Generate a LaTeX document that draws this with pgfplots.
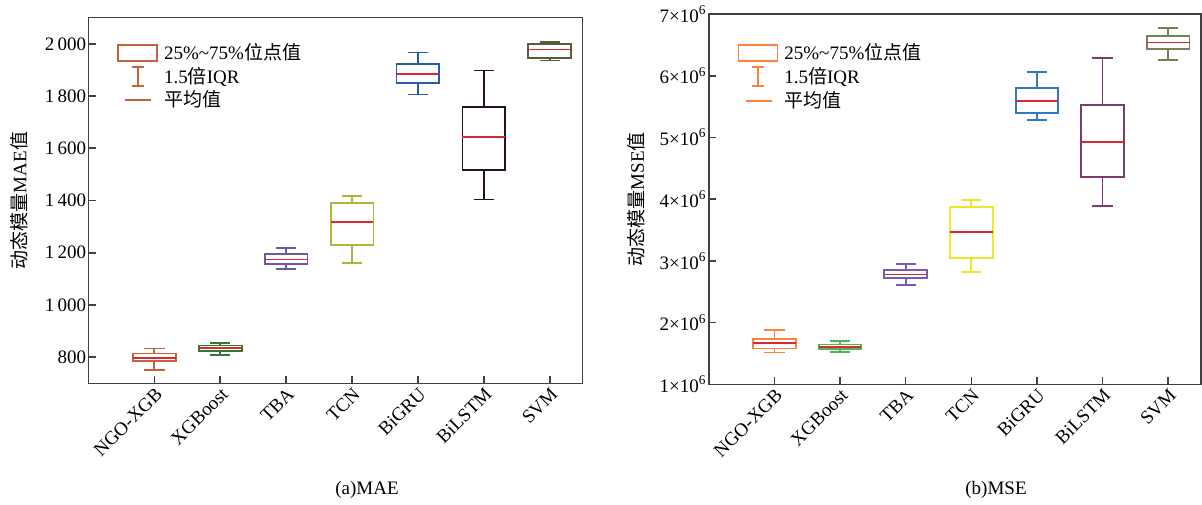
\documentclass[border=0pt]{standalone}
\usepackage{fontspec}
\setmainfont{Liberation Serif}
\newfontfamily\cjk{Noto Sans CJK SC}
\usepackage{pgfplots}
\pgfplotsset{compat=1.18}
\usepgfplotslibrary{statistics}

\definecolor{axgray}{HTML}{404040}
\definecolor{medred}{HTML}{DC2832}
% left plot colours
\definecolor{la}{HTML}{C4623A}
\definecolor{lb}{HTML}{327832}
\definecolor{lc}{HTML}{6E5AA0}
\definecolor{ld}{HTML}{B4B43C}
\definecolor{le}{HTML}{285AAA}
\definecolor{lf}{HTML}{280F28}
\definecolor{lg}{HTML}{555F3C}
% right plot colours
\definecolor{ra}{HTML}{FF823C}
\definecolor{rb}{HTML}{50B450}
\definecolor{rc}{HTML}{785ABE}
\definecolor{rd}{HTML}{F0E628}
\definecolor{re}{HTML}{3278C8}
\definecolor{rf}{HTML}{783C6E}
\definecolor{rg}{HTML}{78825A}

\newcommand{\fs}{\fontsize{9.5}{11}\selectfont}

\pgfplotsset{
  base/.style={
    scale only axis,
    xmin=0, xmax=7.5,
    xtick={1,...,7},
    xticklabels={NGO-XGB,XGBoost,TBA,TCN,BiGRU,BiLSTM,SVM},
    x tick label style={rotate=45, anchor=north east, font=\fs, inner sep=1pt},
    y tick label style={font=\fs, inner sep=1pt},
    tick align=inside,
    xtick pos=bottom, ytick pos=left,
    major tick length=3.5pt,
    axis line style={line width=0.8pt, draw=axgray},
    tick style={line width=0.8pt, draw=axgray},
    label style={font=\fs},
    boxplot/draw direction=y,
    boxplot/every median/.style={draw=medred, line width=0.8pt},
    legend cell align=left,
    legend style={draw=none, fill=none, font=\fs, anchor=north west,
      row sep=-0.6pt, column sep=1.5pt, inner xsep=0pt, inner ysep=0pt,
      nodes={inner sep=1.5pt}},
  },
  bx/.style={line width=0.9pt, solid, mark=none},
}

\newcommand{\legboxes}[1]{%
  \addlegendimage{legend image code/.code={\draw[#1, line width=0.9pt] (0pt,-4pt) rectangle (19.5pt,4pt);}}
  \addlegendentry{25\%\textasciitilde75\%{\cjk 位点值}}
  \addlegendimage{legend image code/.code={\draw[#1, line width=0.9pt] (9.75pt,-4.75pt) -- (9.75pt,4.75pt) (6.75pt,-4.75pt) -- (12.75pt,-4.75pt) (6.75pt,4.75pt) -- (12.75pt,4.75pt);}}
  \addlegendentry{1.5{\cjk 倍}IQR}
  \addlegendimage{legend image code/.code={\draw[#1, line width=0.9pt] (3.5pt,0pt) -- (16.5pt,0pt);}}
  \addlegendentry{{\cjk 平均值}}
}

\begin{document}
\begin{tikzpicture}
\useasboundingbox (0pt,0pt) rectangle (601pt,252pt);

% ---------------- (a) MAE ----------------
\begin{axis}[base,
  at={(44.25pt,60.35pt)}, anchor=south west,
  width=247.1pt, height=182.8pt,
  ymin=700, ymax=2100,
  ytick={800,1000,1200,1400,1600,1800,2000},
  yticklabels={800,1\,000,1\,200,1\,400,1\,600,1\,800,2\,000},
  ylabel={{\cjk 动态模量}MAE{\cjk 值}},
  ylabel style={at={(axis description cs:-0.1406,0.5)}, anchor=center},
  xlabel={(a)MAE},
  xlabel style={at={(axis description cs:0.5635,-0.2918)}, anchor=center},
  legend style={at={(axis description cs:0,1)}, xshift=14.2pt, yshift=-11pt},
]
\legboxes{la}
\addplot[bx, draw=la, boxplot prepared={draw position=1, lower whisker=751, lower quartile=786, median=798, upper quartile=814, upper whisker=833, box extend=0.65, whisker extend=0.31}] coordinates {};
\addplot[bx, draw=lb, boxplot prepared={draw position=2, lower whisker=809, lower quartile=823, median=836, upper quartile=845, upper whisker=854, box extend=0.65, whisker extend=0.31}] coordinates {};
\addplot[bx, draw=lc, boxplot prepared={draw position=3, lower whisker=1137, lower quartile=1157, median=1174, upper quartile=1196, upper whisker=1218, box extend=0.65, whisker extend=0.31}] coordinates {};
\addplot[bx, draw=ld, boxplot prepared={draw position=4, lower whisker=1162, lower quartile=1231, median=1318, upper quartile=1390, upper whisker=1418, box extend=0.65, whisker extend=0.31}] coordinates {};
\addplot[bx, draw=le, boxplot prepared={draw position=5, lower whisker=1806, lower quartile=1850, median=1885, upper quartile=1923, upper whisker=1967, box extend=0.65, whisker extend=0.31}] coordinates {};
\addplot[bx, draw=lf, boxplot prepared={draw position=6, lower whisker=1404, lower quartile=1516, median=1643, upper quartile=1757, upper whisker=1898, box extend=0.65, whisker extend=0.31}] coordinates {};
\addplot[bx, draw=lg, boxplot prepared={draw position=7, lower whisker=1936, lower quartile=1946, median=1978, upper quartile=2000, upper whisker=2006, box extend=0.65, whisker extend=0.31}] coordinates {};
\end{axis}

% ---------------- (b) MSE ----------------
\begin{axis}[base,
  at={(354.4pt,59.85pt)}, anchor=south west,
  width=246.1pt, height=185.15pt,
  ymin=1, ymax=7,
  ytick={1,2,3,4,5,6,7},
  yticklabels={1\texttimes10\textsuperscript{6},2\texttimes10\textsuperscript{6},3\texttimes10\textsuperscript{6},4\texttimes10\textsuperscript{6},5\texttimes10\textsuperscript{6},6\texttimes10\textsuperscript{6},7\texttimes10\textsuperscript{6}},
  ylabel={{\cjk 动态模量}MSE{\cjk 值}},
  ylabel style={at={(axis description cs:-0.1469,0.5)}, anchor=center},
  xlabel={(b)MSE},
  xlabel style={at={(axis description cs:0.5835,-0.2854)}, anchor=center},
  legend style={at={(axis description cs:0,1)}, xshift=14.2pt, yshift=-13pt},
]
\legboxes{ra}
\addplot[bx, draw=ra, boxplot prepared={draw position=1, lower whisker=1.515, lower quartile=1.58, median=1.667, upper quartile=1.74, upper whisker=1.88, box extend=0.65, whisker extend=0.31}] coordinates {};
\addplot[bx, draw=rb, boxplot prepared={draw position=2, lower whisker=1.52, lower quartile=1.575, median=1.607, upper quartile=1.645, upper whisker=1.70, box extend=0.65, whisker extend=0.31}] coordinates {};
\addplot[bx, draw=rc, boxplot prepared={draw position=3, lower whisker=2.609, lower quartile=2.717, median=2.782, upper quartile=2.847, upper whisker=2.944, box extend=0.65, whisker extend=0.31}] coordinates {};
\addplot[bx, draw=rd, boxplot prepared={draw position=4, lower whisker=2.815, lower quartile=3.042, median=3.463, upper quartile=3.868, upper whisker=3.992, box extend=0.65, whisker extend=0.31}] coordinates {};
\addplot[bx, draw=re, boxplot prepared={draw position=5, lower whisker=5.277, lower quartile=5.396, median=5.59, upper quartile=5.796, upper whisker=6.06, box extend=0.65, whisker extend=0.31}] coordinates {};
\addplot[bx, draw=rf, boxplot prepared={draw position=6, lower whisker=3.895, lower quartile=4.354, median=4.926, upper quartile=5.526, upper whisker=6.29, box extend=0.65, whisker extend=0.31}] coordinates {};
\addplot[bx, draw=rg, boxplot prepared={draw position=7, lower whisker=6.255, lower quartile=6.438, median=6.541, upper quartile=6.644, upper whisker=6.778, box extend=0.65, whisker extend=0.31}] coordinates {};
\end{axis}
\end{tikzpicture}
\end{document}
